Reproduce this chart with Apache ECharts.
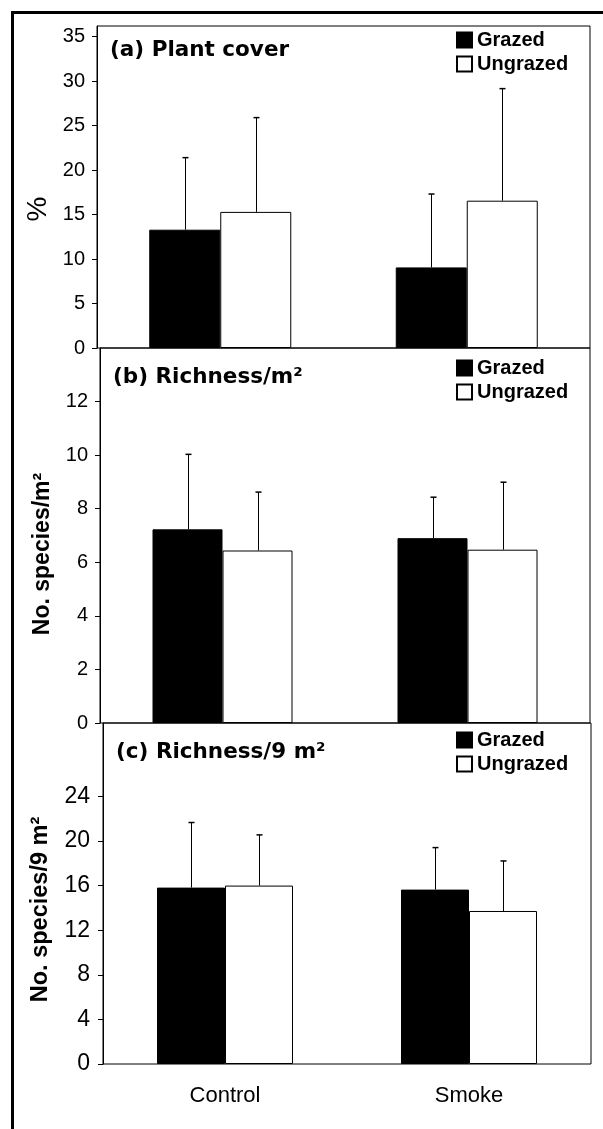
<!DOCTYPE html>
<html>
<head>
<meta charset="utf-8">
<script src="https://cdn.jsdelivr.net/npm/echarts@6/dist/echarts.min.js"></script>
<style>
html,body{margin:0;padding:0;background:#fff;}
#c{width:603px;height:1129px;}
</style>
</head>
<body>
<div id="c"></div>
<script>
// ---- data ----
const categories = ['Control', 'Smoke'];
const legendNames = ['Grazed', 'Ungrazed'];

const coverGrazed = [13.3, 9.06];
const coverGrazedErr = [8.1, 8.25];
const coverUngrazed = [15.3, 16.56];
const coverUngrazedErr = [10.6, 12.6];

const rich1Grazed = [7.23, 6.9];
const rich1GrazedErr = [2.8, 1.53];
const rich1Ungrazed = [6.44, 6.47];
const rich1UngrazedErr = [2.18, 2.52];

const rich9Grazed = [15.83, 15.65];
const rich9GrazedErr = [5.84, 3.77];
const rich9Ungrazed = [16.01, 13.73];
const rich9UngrazedErr = [4.55, 4.49];

const coverTicks = [0, 5, 10, 15, 20, 25, 30, 35];
const rich1Ticks = [0, 2, 4, 6, 8, 10, 12];
const rich9Ticks = [0, 4, 8, 12, 16, 20, 24];
const axisMax = [36.2, 14, 30.6];

const panelTitles = ['(a) Plant cover', '(b) Richness/m²', '(c) Richness/9 m²'];
const yNames = ['%', 'No. species/m²', 'No. species/9 m²'];

// ---- layout/style ----
const grids = [
  {left: 97, top: 26, width: 493, height: 322},
  {left: 100, top: 348, width: 490, height: 375},
  {left: 103, top: 723, width: 488, height: 341}
];
const barW = [71, 70, 68];
const tickSets = [coverTicks, rich1Ticks, rich9Ticks];
const tickFont = [20, 20, 23];
const tickMargin = [12, 12, 13];
const namePad = [44, 37, 32];
const nameSize = [28, 23, 23.5];
const nameWeight = ['normal', 'bold', 'bold'];
const nameGap = [45, 46, 50];
const titlePos = [{left: 110, top: 39}, {left: 113, top: 366}, {left: 116, top: 741}];
const legendTop = [30, 358, 730];

const panelData = [
  [coverGrazed, coverGrazedErr, coverUngrazed, coverUngrazedErr],
  [rich1Grazed, rich1GrazedErr, rich1Ungrazed, rich1UngrazedErr],
  [rich9Grazed, rich9GrazedErr, rich9Ungrazed, rich9UngrazedErr]
];

function errRender(offset) {
  return function (params, api) {
    const x = api.value(0), m = api.value(1), e = api.value(2);
    const base = api.coord([x, m]);
    const top = api.coord([x, m + e]);
    const cx = Math.round(base[0] + offset) + 0.5;
    return {
      type: 'group',
      children: [
        {type: 'line', shape: {x1: cx, y1: base[1], x2: cx, y2: top[1]}, style: {stroke: '#000', lineWidth: 1}},
        {type: 'line', shape: {x1: cx - 3, y1: top[1], x2: cx + 3, y2: top[1]}, style: {stroke: '#000', lineWidth: 1.5}}
      ]
    };
  };
}

const option = {
  animation: false,
  backgroundColor: '#fff',
  grid: grids.map(g => Object.assign({show: true, borderColor: '#000', borderWidth: 1, backgroundColor: 'transparent'}, g)),
  title: panelTitles.map((t, i) => ({
    text: t, left: titlePos[i].left, top: titlePos[i].top, padding: 0,
    textStyle: {fontFamily: 'DejaVu Sans', fontWeight: 'bold', fontSize: 21.5, color: '#000'}
  })),
  legend: legendTop.map(t => ({
    data: legendNames, orient: 'vertical', left: 456, top: t, padding: 0,
    itemWidth: 15, itemHeight: 15, itemGap: 4, icon: 'rect', selectedMode: false,
    textStyle: {fontFamily: 'Liberation Sans', fontWeight: 'bold', fontSize: 20, color: '#000'}
  })),
  xAxis: grids.map((g, i) => ({
    type: 'category', gridIndex: i, data: categories,
    axisLine: {show: false}, axisTick: {show: false},
    axisLabel: {show: i === 2, margin: 21, fontFamily: 'Liberation Sans', fontSize: 22, color: '#000'}
  })),
  yAxis: grids.map((g, i) => ({
    type: 'value', gridIndex: i, min: 0, max: axisMax[i],
    splitLine: {show: false},
    axisLine: {show: true, lineStyle: {color: '#000', width: 1}},
    axisTick: {show: true, length: 5, customValues: tickSets[i], lineStyle: {color: '#000'}},
    axisLabel: {customValues: tickSets[i], margin: tickMargin[i], fontFamily: 'Liberation Sans', fontSize: tickFont[i], color: '#000'},
    name: yNames[i], nameLocation: 'middle', nameRotate: 90, nameGap: nameGap[i],
    nameTextStyle: {fontFamily: 'Liberation Sans', fontWeight: nameWeight[i], fontSize: nameSize[i], color: '#000',
      padding: [0, namePad[i], 0, 0]}
  })),
  series: [],
  graphic: [{
    type: 'rect', left: 10, top: 10, shape: {x: 0, y: 0, width: 640, height: 1160},
    style: {fill: 'none', stroke: '#000', lineWidth: 3}, silent: true, z: 100
  }]
};

panelData.forEach((d, i) => {
  option.series.push({
    name: 'Grazed', type: 'bar', xAxisIndex: i, yAxisIndex: i, data: d[0],
    barWidth: barW[i], barGap: '0%',
    itemStyle: {color: '#000', borderColor: '#000', borderWidth: 1}
  });
  option.series.push({
    name: 'Ungrazed', type: 'bar', xAxisIndex: i, yAxisIndex: i, data: d[2],
    barWidth: barW[i], barGap: '0%',
    itemStyle: {color: '#fff', borderColor: '#000', borderWidth: 1}
  });
  option.series.push({
    name: 'errG' + i, type: 'custom', xAxisIndex: i, yAxisIndex: i, z: 5,
    renderItem: errRender(-barW[i] / 2),
    data: categories.map((c, k) => [k, d[0][k], d[1][k]])
  });
  option.series.push({
    name: 'errU' + i, type: 'custom', xAxisIndex: i, yAxisIndex: i, z: 5,
    renderItem: errRender(barW[i] / 2),
    data: categories.map((c, k) => [k, d[2][k], d[3][k]])
  });
});

const chart = echarts.init(document.getElementById('c'), null, {renderer: 'canvas'});
chart.setOption(option);
</script>
</body>
</html>
